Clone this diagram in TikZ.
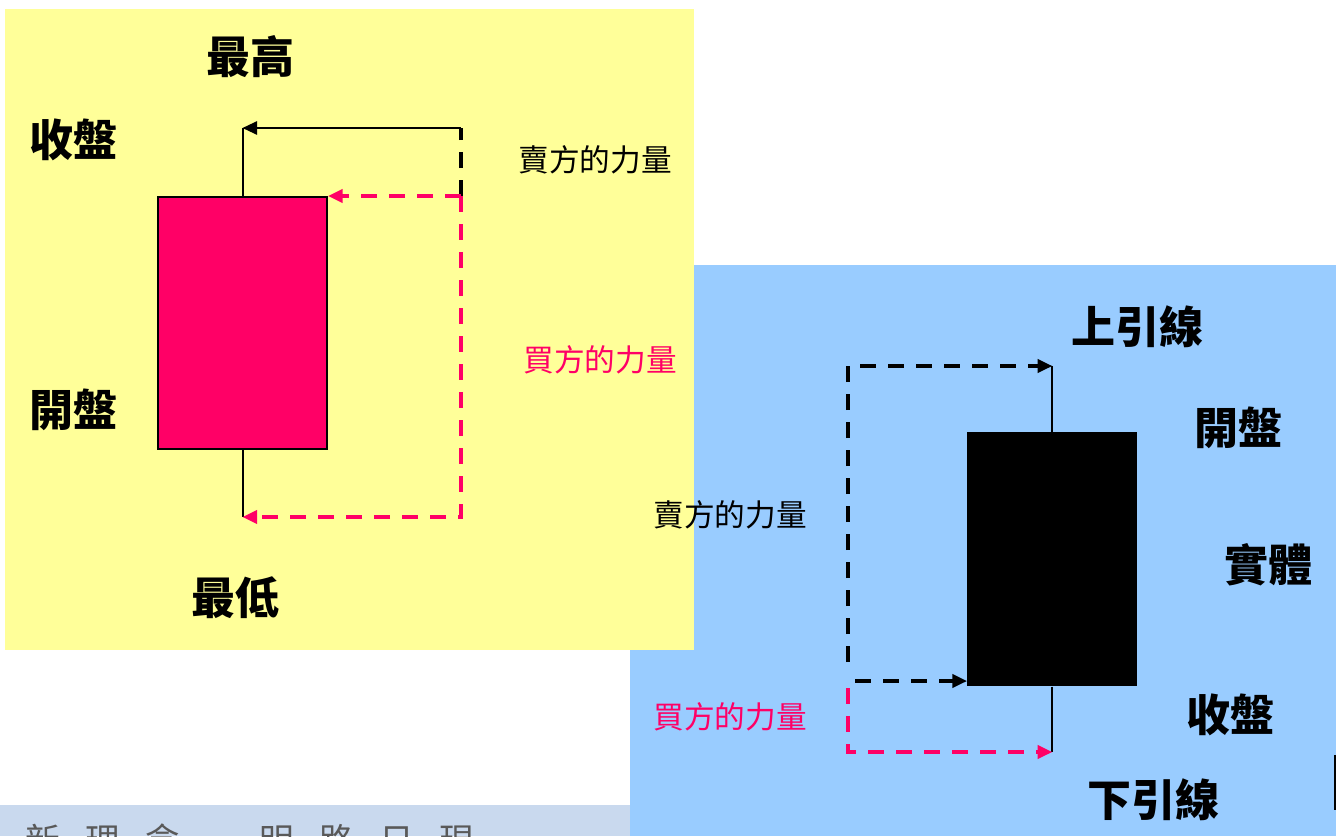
\documentclass[tikz,border=0pt]{standalone}
\usepackage{fontspec}
\newfontfamily\cjk{Noto Sans CJK TC}
\usetikzlibrary{arrows.meta}
\definecolor{paleyellow}{HTML}{FFFF99}
\definecolor{paleblue}{HTML}{99CCFF}
\definecolor{candlered}{HTML}{FF0066}
\definecolor{barblue}{HTML}{C9D9EE}

\begin{document}
\begin{tikzpicture}[x=0.75pt,y=-0.75pt,
  big/.style={font=\cjk\bfseries\fontsize{33}{33}\selectfont},
  small/.style={font=\cjk\fontsize{23}{23}\selectfont},
  tip/.style={-{Triangle[length=11pt,width=10pt]}},
  dsh/.style={line width=2.3pt,dash pattern=on 12pt off 9pt},
  wick/.style={line width=1.5pt}]
\useasboundingbox (0,0) rectangle (1336,836);
\fill[white] (0,0) rectangle (1336,836);
% panels
\fill[paleblue] (630,265) rectangle (1336,836);
\fill[paleyellow] (5,9) rectangle (694,650);
\fill[barblue] (0,805) rectangle (630,836);
\begin{scope}
\clip (0,805) rectangle (630,836);
\node[font=\cjk\fontsize{26}{26}\selectfont,text=black!65,anchor=north west,inner sep=0] (bar) at (25,824) {新\hspace{19pt}理\hspace{19pt}念\hspace{60pt}明\hspace{19pt}路\hspace{19pt}日\hspace{19pt}現};
\end{scope}
\draw[line width=2pt] (1335,755) -- (1335,810);

% left: red candle
\node[draw,line width=1.5pt,fill=candlered,anchor=north west,inner sep=0,
  minimum width=126.75pt,minimum height=189pt] (C0) at (157,196) {};
\coordinate (H0) at (C0.north |- 0,128);
\coordinate (L0) at (C0.south |- 0,517);
\coordinate (P0) at (461,128);
\coordinate (Q0) at (461,196);
\coordinate (R0) at (461,517);
\draw[wick] (C0.north) -- (H0);
\draw[wick] (C0.south) -- (L0);
\draw[wick,tip] (P0) -- (H0);
\draw[dsh] (Q0) -- (P0);
\draw[dsh,candlered,tip] (Q0) -- (C0.north east);
\draw[dsh,candlered,tip] (Q0) -- (R0) -- (L0);
\node[big] (high) at (250,57) {最高};
\node[big] (close0) at (73,140) {收盤};
\node[big] (open0) at (73,410) {開盤};
\node[big] (low) at (235,598) {最低};
\node[small] (sell0) at (595,160) {賣方的力量};
\node[small,text=candlered] (buy0) at (600,360) {買方的力量};

% right: black candle
\node[fill=black,anchor=north west,inner sep=0,
  minimum width=127.5pt,minimum height=190.5pt] (C1) at (967,432) {};
\coordinate (H1) at (C1.north |- 0,366);
\coordinate (L1) at (C1.south |- 0,752);
\coordinate (P1) at (848,366);
\coordinate (Q1) at (848,662);
\coordinate (S1) at (855,681);
\coordinate (R1) at (848,688);
\coordinate (M1) at (848,752);
\draw[wick] (C1.north) -- (H1);
\draw[wick] (C1.south) -- (L1);
\draw[dsh,tip] (Q1) -- (P1) -- (H1);
\draw[dsh,tip] (S1) -- (S1 -| C1.west);
\draw[dsh,candlered,tip] (R1) -- (M1) -- (L1);
\node[big] (upper) at (1137,327) {上引線};
\node[big] (open1) at (1238,428) {開盤};
\node[big] (body) at (1268,565) {實體};
\node[big] (close1) at (1230,715) {收盤};
\node[big] (lower) at (1153,800) {下引線};
\node[small] (sell1) at (730,515) {賣方的力量};
\node[small,text=candlered] (buy1) at (730,717) {買方的力量};
\end{tikzpicture}
\end{document}
